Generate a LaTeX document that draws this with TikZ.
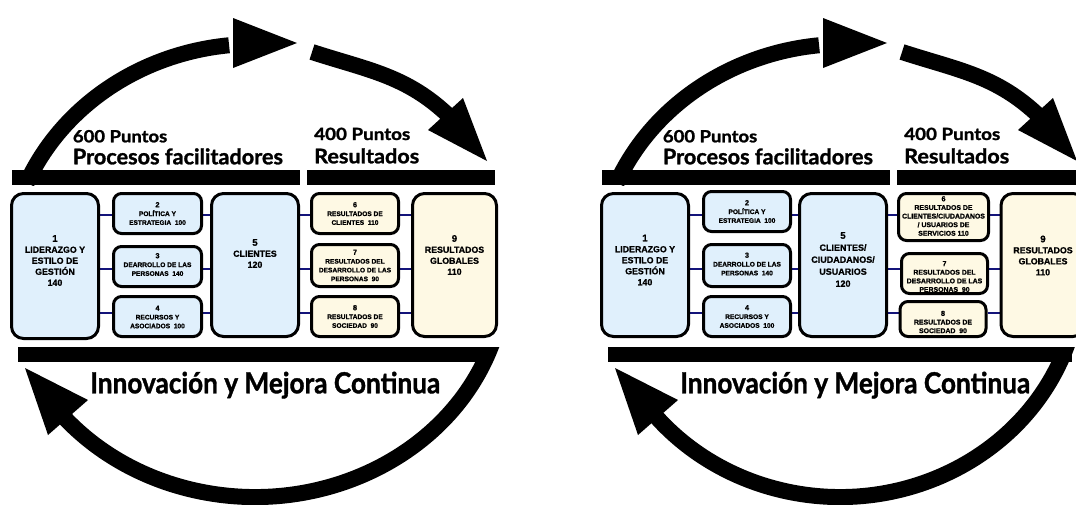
\documentclass[tikz,border=0pt]{standalone}
\usepackage{fontspec}
\usepackage{graphicx}
\usetikzlibrary{backgrounds}
\newfontfamily\headfont{Lato}[BoldFeatures={FakeBold=1.3}]
\newfontfamily\boxfont{Liberation Sans}[BoldFeatures={FakeBold=0.9}]
\definecolor{boxblue}{HTML}{E0F0FC}
\definecolor{boxyellow}{HTML}{FEF9E4}
\definecolor{linknavy}{HTML}{14147A}
\tikzset{
  shaft/.style={draw=black, line width=16pt},
  headtxt/.style={anchor=base west, inner sep=0pt, font=\headfont\bfseries},
  ebox/.style={draw=black, line width=3pt, rounded corners=8pt, inner sep=0pt},
  bluebox/.style={ebox, fill=boxblue},
  yelbox/.style={ebox, fill=boxyellow},
  bigbox/.style={rounded corners=12pt},
  link/.style={draw=linknavy, line width=1.8pt},
  btxt/.style={draw=none, fill=none, align=center, inner sep=0pt, font=\boxfont\bfseries\fontsize{8.8}{11}\selectfont},
  btxtb/.style={draw=none, fill=none, align=center, inner sep=0pt, font=\boxfont\bfseries\fontsize{9}{12}\selectfont},
  stxt/.style={draw=none, fill=none, align=center, inner sep=0pt, font=\boxfont\bfseries\fontsize{6.6}{8.8}\selectfont},
  stxtb/.style={draw=none, fill=none, align=center, inner sep=0pt, font=\boxfont\bfseries\fontsize{6.9}{8.6}\selectfont},
}
% style, name, cx, cy, w, h, dy, textstyle, text
\newcommand\efbox[9]{\node[#1, minimum width=#5pt, minimum height=#6pt,
  path picture={\node[#8] at ([yshift=#7pt]path picture bounding box.center) {#9};}] (#2) at (#3,#4) {};}
\newcommand\bn[1]{{\fontsize{9.6}{11}\selectfont #1}}
\newcommand\sn[1]{{\fontsize{7.3}{8.8}\selectfont #1}}
% xshift, bottom arc centre x, bottom arc x radius, bottom bar end, prefix
\newcommand\efqmframe[5]{%
\begin{scope}[xshift=#1pt]
  \fill (12,-170) rectangle (300,-185);
  \fill (307,-170) rectangle (495,-185);
  \fill (18,-347) rectangle (#4,-362);
  \begin{scope}
    \clip (-50,-185) rectangle (300,0);
    \draw[shaft] ([shift={(157:248 and 228)}]255,-272) arc[start angle=157,end angle=96,x radius=248,y radius=228];
  \end{scope}
  \fill (233,-18) -- (297,-43) -- (233,-68) -- cycle;
  \draw[shaft] (312,-52) to[out=-18,in=136] (450,-117);
  \fill (428,-130) -- (487,-161) -- (463,-98) -- cycle;
  \begin{scope}
    \clip (-50,-347) rectangle (600,-600);
    \draw[shaft] ([shift={(-16:#3 and 225)}]#2,-272) arc[start angle=-16,end angle=-140,x radius=#3,y radius=225];
  \end{scope}
  \fill (48,-435) -- (25,-368) -- (88,-400) -- cycle;
  \node[headtxt] (#5ha) at (72.7,-142.3) {\resizebox{94.3pt}{12.3pt}{600 Puntos}};
  \node[headtxt] (#5hb) at (72.7,-164.3) {\resizebox{210pt}{16pt}{Procesos facilitadores}};
  \node[headtxt] (#5hc) at (314,-140) {\resizebox{96pt}{12.3pt}{400 Puntos}};
  \node[headtxt] (#5hd) at (314,-163.3) {\resizebox{105pt}{15pt}{Resultados}};
  \node[headtxt] (#5he) at (90,-393.3) {\resizebox{350pt}{21.6pt}{Innovación y Mejora Continua}};
\end{scope}}
\begin{document}
\begin{tikzpicture}[x=1pt,y=1pt]
\useasboundingbox (0,0) rectangle (1076,-504);
\clip (0,0) rectangle (1076,-504);
\efqmframe{0}{255}{250}{490}{L}
\efqmframe{590}{250}{240}{482}{R}
% left diagram boxes
\efbox{bluebox,bigbox}{L1}{55}{-266}{87}{145}{5.5}{btxt}{\bn{1}\\LIDERAZGO Y\\ESTILO DE\\GESTIÓN\\140}
\efbox{bluebox}{L2}{157.5}{-213.5}{88}{40}{0}{stxt}{\sn{2}\\POLÍTICA Y\\ESTRATEGIA\ \ 100}
\efbox{bluebox}{L3}{157.5}{-266.5}{88}{40}{2}{stxt}{\sn{3}\\DEARROLLO DE LAS\\PERSONAS\ \ 140}
\efbox{bluebox}{L4}{157.5}{-316.5}{88}{40}{-0.5}{stxt}{\sn{4}\\RECURSOS Y\\ASOCIADOS\ \ 100}
\efbox{bluebox,bigbox}{L5}{255}{-265}{87}{143}{11.5}{btxt}{\bn{5}\\CLIENTES\\120}
\efbox{yelbox}{L6}{355}{-213.5}{87}{40}{0}{stxt}{\sn{6}\\RESULTADOS DE\\CLIENTES\ \ 110}
\efbox{yelbox}{L7}{355}{-265.5}{87}{42}{0}{stxt}{\sn{7}\\RESULTADOS DEL\\DESARROLLO DE LAS\\PERSONAS\ \ 90}
\efbox{yelbox}{L8}{355}{-316.5}{87}{40}{0}{stxt}{\sn{8}\\RESULTADOS DE\\SOCIEDAD\ \ 90}
\efbox{yelbox,bigbox}{L9}{454.5}{-265}{84}{143}{10}{btxt}{\bn{9}\\RESULTADOS\\GLOBALES\\110}
% right diagram boxes
\efbox{bluebox,bigbox}{R1}{645}{-265}{87}{143}{5}{btxt}{\bn{1}\\LIDERAZGO Y\\ESTILO DE\\GESTIÓN\\140}
\efbox{bluebox}{R2}{747}{-211.5}{87}{40}{0}{stxt}{\sn{2}\\POLÍTICA Y\\ESTRATEGIA\ \ 100}
\efbox{bluebox}{R3}{747}{-265.5}{87}{42}{1.5}{stxt}{\sn{3}\\DEARROLLO DE LAS\\PERSONAS\ \ 140}
\efbox{bluebox}{R4}{747}{-316.5}{87}{40}{0}{stxt}{\sn{4}\\RECURSOS Y\\ASOCIADOS\ \ 100}
\efbox{bluebox,bigbox}{R5}{843}{-265}{87}{143}{5.5}{btxtb}{\bn{5}\\CLIENTES/\\CIUDADANOS/\\USUARIOS\\120}
\efbox{yelbox}{R6}{943.5}{-217}{90}{47}{1}{stxtb}{\sn{6}\\RESULTADOS DE\\CLIENTES/CIUDADANOS\\/ USUARIOS DE\\SERVICIOS 110}
\efbox{yelbox}{R7}{944.5}{-273.5}{86}{40}{-3}{stxtb}{\sn{7}\\RESULTADOS DEL\\DESARROLLO DE LAS\\PERSONAS\ \ 90}
\efbox{yelbox}{R8}{943}{-319}{86}{35}{-3}{stxtb}{\sn{8}\\RESULTADOS DE\\SOCIEDAD\ \ 90}
\efbox{yelbox,bigbox}{R9}{1043}{-265}{84}{143}{9.5}{btxt}{\bn{9}\\RESULTADOS\\GLOBALES\\110}
% row coordinates
\coordinate (row1) at (0,-215);
\coordinate (row2) at (0,-269);
\coordinate (row3) at (0,-313);
\begin{pgfonlayer}{background}
  \foreach \p/\q in {1/2,2/3,3/4}{
    \draw[link] (L1.east |- row\p) -- (L\q.west |- row\p);
    \draw[link] (L\q.east |- row\p) -- (L5.west |- row\p);
    \draw[link] (R1.east |- row\p) -- (R\q.west |- row\p);
    \draw[link] (R\q.east |- row\p) -- (R5.west |- row\p);
  }
  \foreach \p/\q in {1/6,2/7,3/8}{
    \draw[link] (L5.east |- row\p) -- (L\q.west |- row\p);
    \draw[link] (L\q.east |- row\p) -- (L9.west |- row\p);
    \draw[link] (R5.east |- row\p) -- (R\q.west |- row\p);
    \draw[link] (R\q.east |- row\p) -- (R9.west |- row\p);
  }
\end{pgfonlayer}
\end{tikzpicture}
\end{document}
